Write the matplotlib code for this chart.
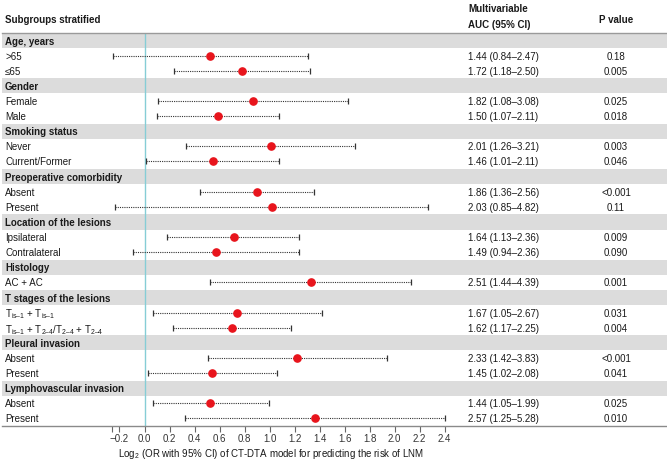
import numpy as np
import matplotlib
matplotlib.use("Agg")
import matplotlib.pyplot as plt
import matplotlib.transforms as mtransforms

plt.rcParams['font.family'] = ['Liberation Sans', 'DejaVu Sans']
plt.rcParams['mathtext.fontset'] = 'custom'
plt.rcParams['mathtext.rm'] = 'Liberation Sans'
plt.rcParams['mathtext.it'] = 'Liberation Sans:italic'
plt.rcParams['mathtext.bf'] = 'Liberation Sans:bold'

# ---------------- data ----------------
sections = ["Age, years", "Gender", "Smoking status", "Preoperative comorbidity",
            "Location of the lesions", "Histology", "T stages of the lesions",
            "Pleural invasion", "Lymphovascular invasion"]
subgroups = [
    [">65", "≤65"],
    ["Female", "Male"],
    ["Never", "Current/Former"],
    ["Absent", "Present"],
    ["Ipsilateral", "Contralateral"],
    ["AC + AC"],
    [r"T$_{\mathrm{is–1}}$ + T$_{\mathrm{is–1}}$",
     r"T$_{\mathrm{is–1}}$ + T$_{\mathrm{2–4}}$/T$_{\mathrm{2–4}}$ + T$_{\mathrm{2–4}}$"],
    ["Absent", "Present"],
    ["Absent", "Present"],
]
or_vals = [1.44, 1.72, 1.82, 1.50, 2.01, 1.46, 1.86, 2.03, 1.64, 1.49, 2.51,
           1.67, 1.62, 2.33, 1.45, 1.44, 2.57]
ci_lo = [0.84, 1.18, 1.08, 1.07, 1.26, 1.01, 1.36, 0.85, 1.13, 0.94, 1.44,
         1.05, 1.17, 1.42, 1.02, 1.05, 1.25]
ci_hi = [2.47, 2.50, 3.08, 2.11, 3.21, 2.11, 2.56, 4.82, 2.36, 2.36, 4.39,
         2.67, 2.25, 3.83, 2.08, 1.99, 5.28]
p_vals = ["0.18", "0.005", "0.025", "0.018", "0.003", "0.046", "<0.001", "0.11",
          "0.009", "0.090", "0.001", "0.031", "0.004", "<0.001", "0.041", "0.025", "0.010"]
xticks = [-0.2, 0.0, 0.2, 0.4, 0.6, 0.8, 1.0, 1.2, 1.4, 1.6, 1.8, 2.0, 2.2, 2.4]

# ---------------- layout ----------------
W, H = 667, 461
fig = plt.figure(figsize=(W / 100, H / 100), dpi=100)
L, TOP, BOT = 2, 33, 426
ax = fig.add_axes([L / W, 1 - BOT / H, (W - L) / W, (BOT - TOP) / H])
x0px, scale = 144.5, 125.1
ax.set_xlim((L - x0px) / scale, (W - x0px) / scale)

n_rows = len(sections) + sum(len(s) for s in subgroups)
ax.set_ylim(n_rows, 0)

tr = mtransforms.blended_transform_factory(fig.transFigure, ax.transData)
txt_col = '#1a1a1a'
fs = 7

row = 0
k = 0
for sec, subs in zip(sections, subgroups):
    ax.axhspan(row, row + 1, color='#dcdcdc', lw=0, zorder=0)
    ax.text(5 / W, row + 0.5, sec, transform=tr, fontsize=fs, fontweight='bold',
            va='center_baseline', ha='left', color=txt_col)
    row += 1
    for s in subs:
        y = row + 0.5
        o, lo, hi = np.log2(or_vals[k]), np.log2(ci_lo[k]), np.log2(ci_hi[k])
        ax.plot([lo, hi], [y, y], color='#333333', lw=0.8, ls=(0, (1, 1)), zorder=2)
        ax.plot([lo, hi], [y, y], ls='none', marker='|', ms=5, mew=0.9,
                color='#333333', zorder=2)
        ax.plot([o], [y], 'o', ms=5.2, color='#e8141c', mec='#e8141c', zorder=3)
        ax.text(5 / W, y, s, transform=tr, fontsize=fs, va='center_baseline',
                ha='left', color=txt_col)
        ax.text(468 / W, y, f"{or_vals[k]:.2f} ({ci_lo[k]:.2f}–{ci_hi[k]:.2f})",
                transform=tr, fontsize=fs, va='center_baseline', ha='left', color=txt_col)
        ax.text(616 / W, y, p_vals[k], transform=tr, fontsize=fs,
                va='center_baseline', ha='center', color=txt_col)
        row += 1
        k += 1

ax.axvline(0, color='#86cdd6', lw=1, zorder=1)

# axes styling
for sp in ['left', 'right']:
    ax.spines[sp].set_visible(False)
ax.spines['top'].set_color('#9a9a9a')
ax.spines['top'].set_linewidth(1.0)
ax.spines['bottom'].set_color('#8a8a8a')
ax.spines['bottom'].set_linewidth(1.0)
ax.set_yticks([])
ticks = [-0.26] + xticks
ax.set_xticks(ticks)
ax.set_xticklabels([''] + [f"{t:.1f}".replace('-', '−') for t in xticks])
ax.tick_params(axis='x', direction='out', length=4, width=0.8, color='#666666',
               labelsize=fs, labelcolor='#333333', pad=2)

# headers
def ftxt(px, py, s, **kw):
    fig.text(px / W, 1 - py / H, s, fontsize=fs, color=txt_col, **kw)

ftxt(5, 19, "Subgroups stratified", fontweight='bold', ha='left', va='center_baseline')
ftxt(468, 8, "Multivariable", fontweight='bold', ha='left', va='center_baseline')
ftxt(468, 23.5, "AUC (95% CI)", fontweight='bold', ha='left', va='center_baseline')
ftxt(616, 19, "P value", fontweight='bold', ha='center', va='center_baseline')
ftxt(271, 452, r"Log$_{2}$ (OR with 95% CI) of CT-DTA model for predicting the risk of LNM",
     ha='center', va='center_baseline')

fig.savefig("out.png", dpi=100)
